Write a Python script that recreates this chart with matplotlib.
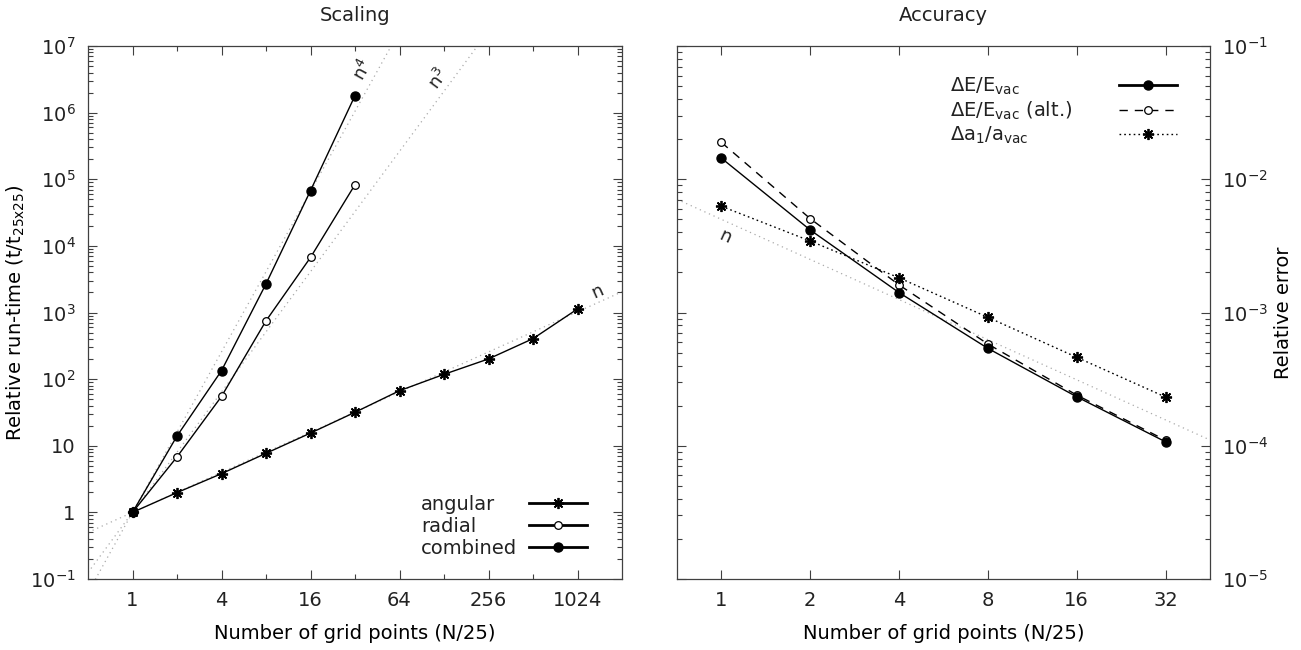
import matplotlib
matplotlib.use('Agg')
import matplotlib.pyplot as plt
import numpy as np
from matplotlib.ticker import FixedLocator, FixedFormatter, LogLocator, NullFormatter

plt.rcParams['font.family'] = 'DejaVu Sans'
plt.rcParams['mathtext.fontset'] = 'dejavusans'
plt.rcParams['font.size'] = 14
plt.rcParams['text.color'] = '#222222'

# run-time relative to the 25x25 grid
n_scaling = [1, 2, 4, 8, 16, 32, 64, 128, 256, 512, 1024]
t_angular = [1.0, 1.98, 3.81, 7.7, 15.5, 31.8, 67, 118, 201, 405, 1130]
n_radial = [1, 2, 4, 8, 16, 32]
t_radial = [1.0, 6.8, 55, 750, 6700, 83000]
t_combined = [1.0, 14.0, 134, 2690, 67500, 1.8e6]

# relative errors
n_accuracy = [1, 2, 4, 8, 16, 32]
err_energy = [0.0144, 0.00416, 0.00141, 5.38e-4, 2.33e-4, 1.07e-4]
err_energy_alt = [0.0189, 0.00506, 0.00161, 5.8e-4, 2.4e-4, 1.10e-4]
err_a1 = [0.00627, 0.00344, 0.00182, 9.2e-4, 4.61e-4, 2.32e-4]

scaling_orders = [4, 3, 1]
scaling_labels = [r'$\mathregular{n^4}$', r'$\mathregular{n^3}$', r'$\mathregular{n}$']
accuracy_coef = 0.005

x_ticks_left = [1, 4, 16, 64, 256, 1024]
x_minor_left = [2, 8, 32, 128, 512]
y_ticks_left = [1e-1, 1, 10, 1e2, 1e3, 1e4, 1e5, 1e6, 1e7]
y_labels_left = [r'$10^{-1}$', '1', '10', r'$10^{2}$', r'$10^{3}$', r'$10^{4}$',
                 r'$10^{5}$', r'$10^{6}$', r'$10^{7}$']
x_ticks_right = [1, 2, 4, 8, 16, 32]
y_ticks_right = [1e-5, 1e-4, 1e-3, 1e-2, 1e-1]
y_labels_right = [r'$10^{-5}$', r'$10^{-4}$', r'$10^{-3}$', r'$10^{-2}$', r'$10^{-1}$']

W, H = 1301, 650
fig = plt.figure(figsize=(W / 100, H / 100), dpi=100)
ax1 = fig.add_axes([88 / W, 1 - 579 / H, (622 - 88) / W, (579 - 46) / H])
ax2 = fig.add_axes([677 / W, 1 - 579 / H, (1210 - 677) / W, (579 - 46) / H])

spine_col = '#404040'
asterisk = (8, 2, 0)
ref_style = dict(color='#aaaaaa', lw=0.9, ls=(0, (1, 3)), zorder=1)


def style_axes(ax):
    for s in ax.spines.values():
        s.set_color(spine_col)
        s.set_linewidth(0.9)
    ax.tick_params(which='both', direction='in', top=True, right=True,
                   color=spine_col, width=0.8, labelsize=14, labelcolor='#222222', pad=9)
    ax.tick_params(which='major', length=6.5)
    ax.tick_params(which='minor', length=3.5)


def line_angle(ax, x0, x1, f):
    p0 = ax.transData.transform((x0, f(x0)))
    p1 = ax.transData.transform((x1, f(x1)))
    return np.degrees(np.arctan2(p1[1] - p0[1], p1[0] - p0[0]))


# --- Scaling ---
ax1.set_xscale('log', base=2)
ax1.set_yscale('log')
ax1.set_xlim(0.5, 2048)
ax1.set_ylim(1e-1, 1e7)
style_axes(ax1)
ax1.xaxis.set_major_locator(FixedLocator(x_ticks_left))
ax1.xaxis.set_major_formatter(FixedFormatter([str(v) for v in x_ticks_left]))
ax1.xaxis.set_minor_locator(FixedLocator(x_minor_left))
ax1.xaxis.set_minor_formatter(NullFormatter())
ax1.yaxis.set_major_locator(FixedLocator(y_ticks_left))
ax1.yaxis.set_major_formatter(FixedFormatter(y_labels_left))
ax1.yaxis.set_minor_locator(LogLocator(base=10, subs=np.arange(2, 10), numticks=20))
ax1.yaxis.set_minor_formatter(NullFormatter())

xr = np.geomspace(0.5, 2048, 200)
for k in scaling_orders:
    ax1.plot(xr, xr ** k, **ref_style)

la, = ax1.plot(n_scaling, t_angular, color='black', lw=1.0, marker=asterisk,
               ms=8, mew=1.3, label='angular', zorder=3)
lr, = ax1.plot(n_radial, t_radial, color='black', lw=1.0, marker='o', ms=5.5,
               mfc='white', mec='black', mew=0.9, label='radial', zorder=3)
lc, = ax1.plot(n_radial, t_combined, color='black', lw=1.0, marker='o', ms=6.5,
               mfc='black', mec='black', label='combined', zorder=4)

# power-law labels placed just above each guide line
label_x = [36.5, 117, 1400]
label_off = [19, 14.5, 7.5]
for k, txt, lx, off in zip(scaling_orders, scaling_labels, label_x, label_off):
    ang = line_angle(ax1, 1, 8, lambda v, k=k: v ** k)
    ax1.annotate(txt, xy=(lx, lx ** k), xytext=(0, off), textcoords='offset points',
                 ha='center', va='center', rotation=ang, rotation_mode='anchor',
                 fontsize=13, color='#222222')

ax1.set_title('Scaling', fontsize=14, pad=18, color='#222222')
ax1.set_xlabel('Number of grid points (N/25)', fontsize=14, labelpad=10)
ax1.set_ylabel(r'Relative run-time (t/t$_\mathregular{25x25}$)', fontsize=14)
ax1.yaxis.set_label_coords(-0.115, 0.5)

# legend: texts left-aligned, samples right-aligned
handles1 = [la, lr, lc]
leg_common = dict(frameon=False, fontsize=14, borderpad=0, borderaxespad=0,
                  labelspacing=0.15, handleheight=0.7)
legA = ax1.legend(handles1, [h.get_label() for h in handles1], loc='lower left',
                  bbox_to_anchor=((421 - 88) / 534, 0.04), handlelength=0,
                  handletextpad=0, **leg_common)
for h in legA.legend_handles:
    h.set_visible(False)
ax1.add_artist(legA)
legB = ax1.legend(handles1, [h.get_label() for h in handles1], loc='lower right',
                  bbox_to_anchor=((587 - 88) / 534, 0.04), markerfirst=False,
                  handlelength=3.0, handletextpad=0.5, **leg_common)
for t in legB.get_texts():
    t.set_visible(False)
for h in legB.legend_handles:
    h.set_linewidth(2.0)

# --- Accuracy ---
ax2.set_xscale('log', base=2)
ax2.set_yscale('log')
ax2.set_xlim(2 ** -0.5, 2 ** 5.5)
ax2.set_ylim(1e-5, 1e-1)
style_axes(ax2)
ax2.tick_params(which='both', left=True, labelleft=False, right=True, labelright=True)
ax2.xaxis.set_major_locator(FixedLocator(x_ticks_right))
ax2.xaxis.set_major_formatter(FixedFormatter([str(v) for v in x_ticks_right]))
ax2.xaxis.set_minor_locator(FixedLocator([]))
ax2.yaxis.set_major_locator(FixedLocator(y_ticks_right))
ax2.yaxis.set_major_formatter(FixedFormatter(y_labels_right))
ax2.yaxis.set_minor_locator(LogLocator(base=10, subs=np.arange(2, 10), numticks=20))
ax2.yaxis.set_minor_formatter(NullFormatter())

xr2 = np.geomspace(2 ** -0.5, 2 ** 5.5, 100)
ax2.plot(xr2, accuracy_coef / xr2, **ref_style)
ang2 = line_angle(ax2, 1, 8, lambda v: accuracy_coef / v)
ax2.annotate(r'$\mathregular{n}$', xy=(1.03, accuracy_coef / 1.03), xytext=(0, -11),
             textcoords='offset points', ha='center', va='center', rotation=ang2,
             rotation_mode='anchor', fontsize=13, color='#222222')

le, = ax2.plot(n_accuracy, err_energy, color='black', lw=1.0, marker='o', ms=6.5,
               mfc='black', label=r'$\mathregular{\Delta E/E_{vac}}$', zorder=4)
lalt, = ax2.plot(n_accuracy, err_energy_alt, color='black', lw=1.0, ls=(0, (6, 5)),
                 marker='o', ms=5.5, mfc='white', mew=0.9,
                 label=r'$\mathregular{\Delta E/E_{vac}}$ (alt.)', zorder=3)
la1, = ax2.plot(n_accuracy, err_a1, color='black', lw=1.0, ls=(0, (1.2, 2.2)),
                marker=asterisk, ms=8, mew=1.3,
                label=r'$\mathregular{\Delta a_1/a_{vac}}$', zorder=3)

ax2.set_title('Accuracy', fontsize=14, pad=18, color='#222222')
ax2.set_xlabel('Number of grid points (N/25)', fontsize=14, labelpad=10)
ax2.yaxis.set_label_position('right')
ax2.set_ylabel('Relative error', fontsize=14, labelpad=4)

handles2 = [le, lalt, la1]
legC = ax2.legend(handles2, [h.get_label() for h in handles2], loc='upper left',
                  bbox_to_anchor=((950 - 677) / 533, 0.945), handlelength=0,
                  handletextpad=0, **leg_common)
for h in legC.legend_handles:
    h.set_visible(False)
ax2.add_artist(legC)
legD = ax2.legend(handles2, [h.get_label() for h in handles2], loc='upper right',
                  bbox_to_anchor=((1177 - 677) / 533, 0.945), markerfirst=False,
                  handlelength=3.0, handletextpad=0.5, **leg_common)
for t in legD.get_texts():
    t.set_visible(False)
legD.legend_handles[0].set_linewidth(2.0)

fig.savefig('out.png', dpi=100)
